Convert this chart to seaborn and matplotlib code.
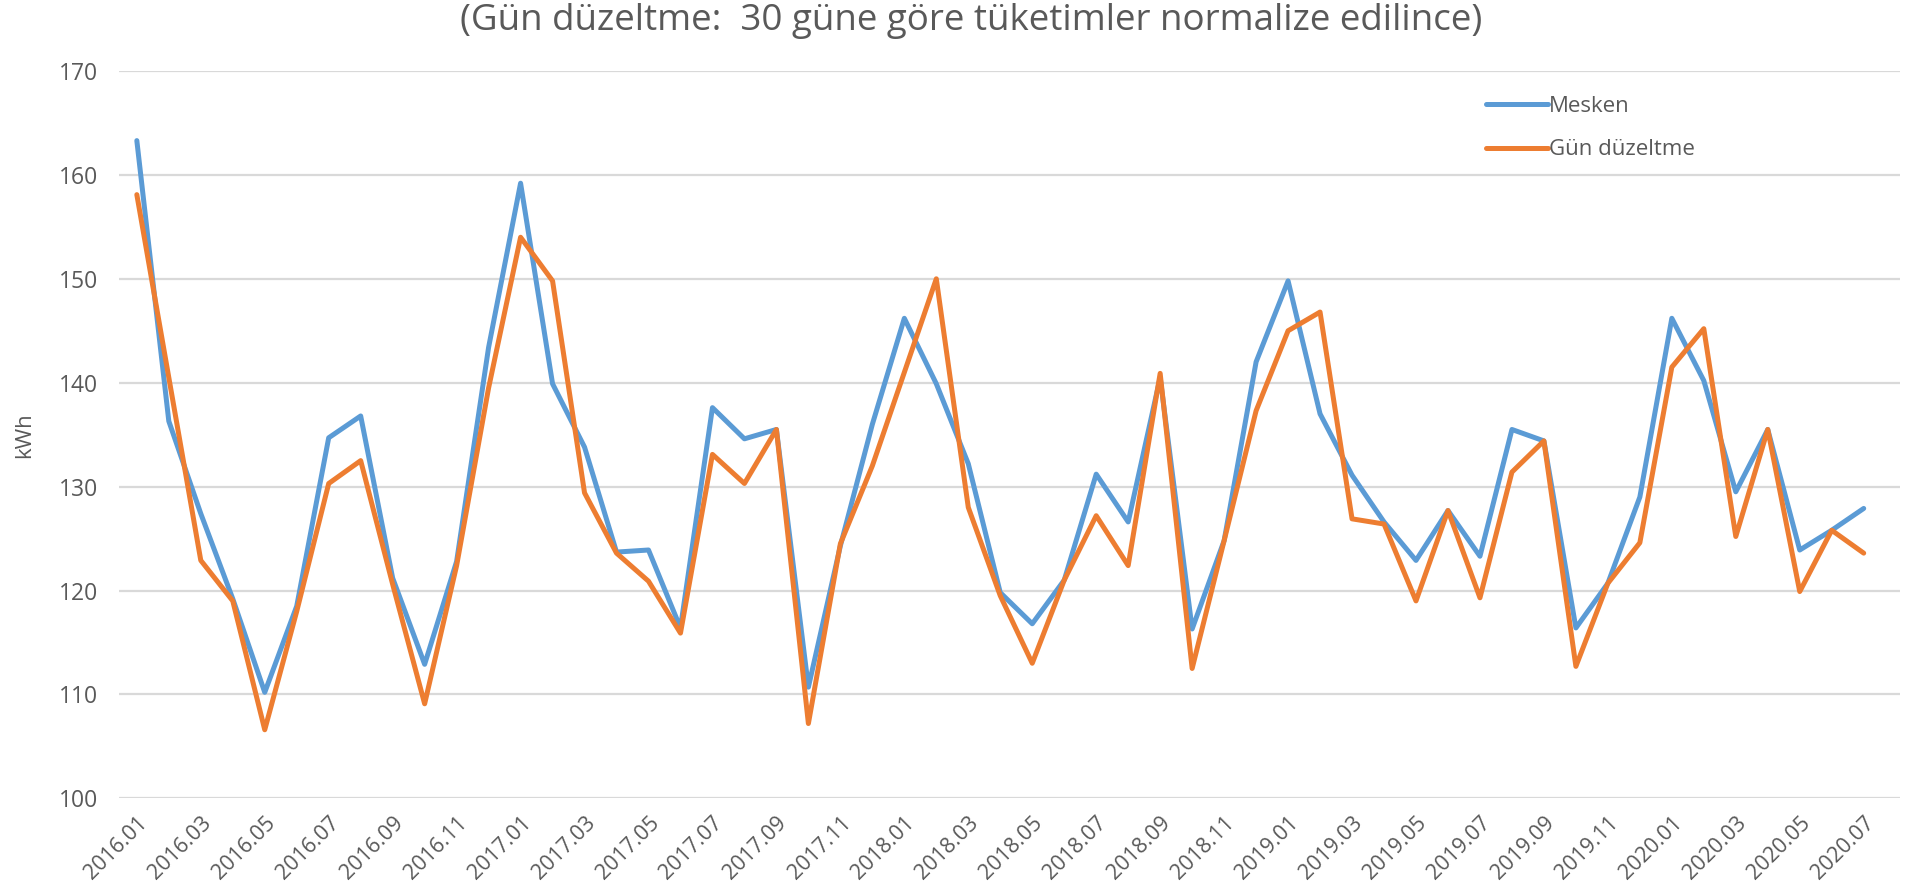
import pandas as pd
import matplotlib
matplotlib.use("Agg")
import matplotlib.pyplot as plt
import seaborn as sns

# monthly labels 2016.01 .. 2020.07
months = [f"{y}.{m:02d}" for y in range(2016, 2021) for m in range(1, 13)][:55]

mesken = [163.3, 136.3, 127.4, 119.2, 110.2, 118.5, 134.7, 136.8, 121.2, 112.9, 122.8, 143.4,
          159.2, 139.9, 133.8, 123.7, 123.9, 116.4, 137.6, 134.6, 135.5, 110.7, 124.3, 136.0,
          146.2, 139.9, 132.2, 119.8, 116.8, 121.0, 131.2, 126.6, 140.5, 116.3, 124.8, 142.0,
          149.8, 137.0, 131.1, 126.6, 122.9, 127.7, 123.3, 135.5, 134.4, 116.4, 120.7, 129.0,
          146.2, 140.2, 129.5, 135.5, 123.9, 125.8, 127.9]

gun_duzeltme = [158.1, 140.5, 122.9, 119.0, 106.6, 118.0, 130.3, 132.5, 120.6, 109.1, 122.4, 139.5,
                154.0, 149.8, 129.4, 123.6, 120.9, 115.9, 133.1, 130.3, 135.5, 107.2, 124.5, 132.0,
                141.0, 150.0, 128.0, 119.5, 113.0, 121.0, 127.2, 122.4, 140.9, 112.5, 124.8, 137.3,
                145.0, 146.8, 126.9, 126.4, 119.0, 127.7, 119.3, 131.4, 134.4, 112.7, 120.7, 124.6,
                141.5, 145.2, 125.2, 135.5, 119.9, 125.8, 123.6]

df = pd.DataFrame({"idx": range(len(months)), "ay": months,
                   "Mesken": mesken, "Gün düzeltme": gun_duzeltme})
long = df.melt(id_vars=["idx", "ay"], var_name="seri", value_name="kWh")

sns.set_style("white")
plt.rcParams["font.family"] = ["Open Sans", "DejaVu Sans"]
gray = "#595959"

fig = plt.figure(figsize=(19.16, 8.93), dpi=100)
ax = fig.add_axes([0.0619, 0.106, 0.930, 0.8145])

sns.lineplot(data=long, x="idx", y="kWh", hue="seri",
             palette={"Mesken": "#5B9BD5", "Gün düzeltme": "#ED7D31"},
             linewidth=3.6, ax=ax)

ax.set_xlim(-0.57, 55.15)
ax.set_ylim(100, 170)
ax.set_yticks(range(100, 171, 10))
ax.set_xticks(df["idx"][::2])
ax.set_xticklabels(df["ay"][::2], rotation=45, ha="right", rotation_mode="anchor")
ax.tick_params(axis="both", length=0, colors=gray)
ax.tick_params(axis="x", pad=10, labelsize=15.5)
ax.tick_params(axis="y", pad=15, labelsize=16.5)
ax.grid(axis="y", color="#D9D9D9", linewidth=1.6)
ax.set_axisbelow(True)
for s in ax.spines.values():
    s.set_visible(False)

ax.set_xlabel("")
ax.set_ylabel("kWh", color=gray, fontsize=16, labelpad=17)

fig.suptitle("(Gün düzeltme:  30 güne göre tüketimler normalize edilince)",
             x=0.507, y=0.997, color=gray, fontsize=26.5)

leg = ax.legend(loc="upper left", bbox_to_anchor=(0.756, 0.993), frameon=False,
                fontsize=16, handlelength=2.8, handletextpad=0.05, labelspacing=1.0)
for t in leg.get_texts():
    t.set_color(gray)

fig.savefig("out.png", dpi=100)
